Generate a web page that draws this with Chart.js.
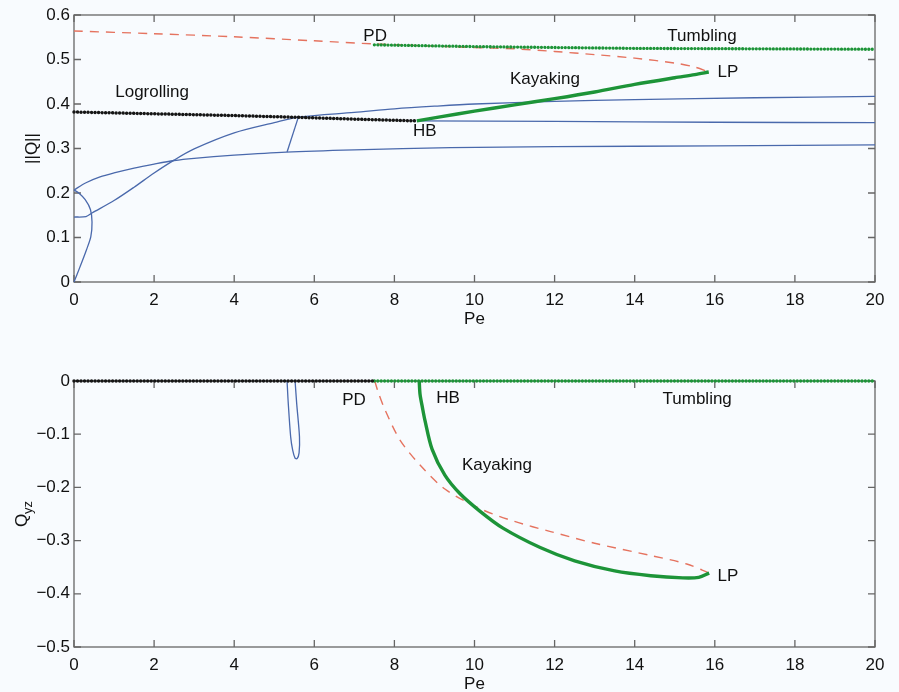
<!DOCTYPE html>
<html>
<head>
<meta charset="utf-8">
<script src="https://cdn.jsdelivr.net/npm/chart.js@4.4.1/dist/chart.umd.min.js"></script>
<style>
  html, body { margin: 0; padding: 0; background: #f8fbfe; }
  #wrap { position: relative; width: 899px; height: 692px; overflow: hidden; }
  canvas { position: absolute; left: 0; }
  #topChart { top: 0; }
  #bottomChart { top: 340px; }
</style>
</head>
<body>
<div id="wrap">
  <canvas id="topChart" width="899" height="340"></canvas>
  <canvas id="bottomChart" width="899" height="352"></canvas>
</div>
<script>
// ---- top panel: ||Q|| vs Pe ----
const logrollPe = [0, 2, 4, 5.6, 7, 8.56];
const logrollQ  = [0.382, 0.378, 0.374, 0.370, 0.366, 0.362];
const tumblePe  = [7.5, 10, 14, 20];
const tumbleQ   = [0.533, 0.529, 0.525, 0.523];
const kayakPe   = [8.56, 9.14, 10, 11, 12, 13, 14, 15, 15.5, 15.85];
const kayakQ    = [0.362, 0.371, 0.384, 0.398, 0.412, 0.427, 0.444, 0.459, 0.466, 0.472];
const redPe     = [0, 2, 4, 6, 7.5, 9, 10, 11, 12, 13, 14, 15, 15.5, 15.85];
const redQ      = [0.564, 0.558, 0.551, 0.542, 0.535, 0.530, 0.527, 0.524, 0.518, 0.511, 0.503, 0.492, 0.483, 0.472];
const blueUpPe  = [0, 0.3, 0.45, 1, 1.5, 2, 2.5, 3, 4, 5, 5.64, 7, 8, 9, 10, 12, 14, 17, 20];
const blueUpQ   = [0.146, 0.147, 0.155, 0.183, 0.213, 0.245, 0.274, 0.299, 0.335, 0.358, 0.371, 0.381, 0.389, 0.395, 0.400, 0.406, 0.410, 0.414, 0.417];
const blueLoPe  = [0, 0.3, 0.65, 1, 1.5, 2, 2.5, 3, 4, 5.3, 7, 9.4, 12, 16, 20];
const blueLoQ   = [0.207, 0.223, 0.236, 0.245, 0.256, 0.265, 0.273, 0.278, 0.285, 0.292, 0.297, 0.302, 0.304, 0.306, 0.308];
const blueMidPe = [8.56, 12, 16, 20];
const blueMidQ  = [0.362, 0.361, 0.359, 0.358];
const linkPe    = [5.32, 5.6];
const linkQ     = [0.292, 0.370];
const arcPe     = [0, 0.15, 0.31, 0.42, 0.45, 0.41, 0.28, 0.12, 0];
const arcQ      = [0, 0.034, 0.072, 0.102, 0.135, 0.163, 0.185, 0.200, 0.207];

// ---- bottom panel: Q_yz vs Pe ----
const logrollBotPe = [0, 7.5];
const logrollBotQ  = [0, 0];
const tumbleBotPe  = [7.5, 20];
const tumbleBotQ   = [0, 0];
const loopPe       = [5.32, 5.35, 5.41, 5.46, 5.52, 5.57, 5.62, 5.63, 5.56, 5.52];
const loopQ        = [0, -0.042, -0.105, -0.13, -0.145, -0.146, -0.135, -0.105, -0.042, 0];
const redBotPe     = [7.51, 7.6, 7.77, 8.14, 8.64, 9.26, 10.14, 11, 11.9, 13, 14.4, 15.3, 15.86];
const redBotQ      = [0, -0.022, -0.055, -0.111, -0.158, -0.203, -0.240, -0.264, -0.283, -0.305, -0.328, -0.344, -0.361];
const kayakBotPe   = [8.62, 8.64, 8.7, 8.76, 8.94, 9.26, 9.64, 10.14, 10.7, 11.64, 12.5, 13.5, 14.4, 15.2, 15.6, 15.86];
const kayakBotQ    = [0, -0.025, -0.05, -0.073, -0.128, -0.177, -0.212, -0.245, -0.276, -0.313, -0.338, -0.357, -0.366, -0.370, -0.369, -0.361];

// labels, anchored in data coordinates
const topLabels = [
  {text: 'PD', pe: 7.52, v: 0.553}, {text: 'Tumbling', pe: 15.68, v: 0.551},
  {text: 'Logrolling', pe: 1.95, v: 0.427}, {text: 'Kayaking', pe: 11.76, v: 0.456},
  {text: 'LP', pe: 16.33, v: 0.472}, {text: 'HB', pe: 8.76, v: 0.339}
];
const bottomLabels = [
  {text: 'PD', pe: 6.99, v: -0.036}, {text: 'HB', pe: 9.34, v: -0.032},
  {text: 'Tumbling', pe: 15.56, v: -0.034}, {text: 'Kayaking', pe: 10.56, v: -0.158},
  {text: 'LP', pe: 16.33, v: -0.368}
];

const FONT = '"Liberation Sans", Arial, Helvetica, sans-serif';
const BLUE = '#4a69ac', RED = '#e5735f', GREEN = '#1d9438', BLACK = '#151515';

function pts(xs, ys) { return xs.map((x, i) => ({x: x, y: ys[i]})); }

function line(xs, ys, style) {
  return Object.assign({
    data: pts(xs, ys), showLine: true, pointRadius: 0, pointHoverRadius: 0,
    fill: false, clip: false, tension: 0.3, borderWidth: 1.3
  }, style);
}

const blueStyle  = {borderColor: BLUE, borderWidth: 1.3};
const redStyle   = {borderColor: RED, borderWidth: 1.4, borderDash: [9, 7]};
const dotBlack   = {borderColor: BLACK, borderWidth: 3.5, borderDash: [0.01, 3.5], borderCapStyle: 'round', tension: 0};
const dotGreen   = {borderColor: GREEN, borderWidth: 3.3, borderDash: [0.01, 3.4], borderCapStyle: 'round', tension: 0};
const solidGreen = {borderColor: GREEN, borderWidth: 3.4};

function fmtY(v) {
  if (Math.abs(v) < 1e-9) return '0';
  return (v < 0 ? '\u2212' : '') + Math.abs(v).toFixed(1);
}

function scalesFor(ymin, ymax, xh) {
  const tickFont = {family: FONT, size: 17};
  return {
    x: {
      type: 'linear', min: 0, max: 20,
      afterFit: s => { s.height = xh; },
      grid: {display: false}, border: {display: false},
      ticks: {stepSize: 2, padding: 0, color: '#111', font: tickFont, maxRotation: 0, autoSkip: false}
    },
    y: {
      type: 'linear', min: ymin, max: ymax,
      afterFit: s => { s.width = 74; },
      grid: {display: false}, border: {display: false},
      ticks: {stepSize: 0.1, padding: -4, color: '#111', font: tickFont, callback: fmtY}
    }
  };
}

// MATLAB-like box with inward ticks on all four sides
const frame = {
  id: 'frame',
  beforeDatasetsDraw(chart) {
    const {ctx, chartArea: a, scales: {x, y}} = chart;
    ctx.save();
    ctx.strokeStyle = '#666';
    ctx.lineWidth = 1.3;
    ctx.strokeRect(a.left, a.top, a.width, a.height);
    ctx.beginPath();
    x.ticks.forEach(t => {
      const px = x.getPixelForValue(t.value);
      ctx.moveTo(px, a.bottom); ctx.lineTo(px, a.bottom - 7);
      ctx.moveTo(px, a.top); ctx.lineTo(px, a.top + 7);
    });
    y.ticks.forEach(t => {
      const py = y.getPixelForValue(t.value);
      ctx.moveTo(a.left, py); ctx.lineTo(a.left + 7, py);
      ctx.moveTo(a.right, py); ctx.lineTo(a.right - 7, py);
    });
    ctx.stroke();
    ctx.restore();
  }
};

function textLayer(labels, drawYTitle) {
  return {
    id: 'textLayer',
    afterDatasetsDraw(chart) {
      const {ctx, chartArea: a, scales: {x, y}} = chart;
      ctx.save();
      ctx.fillStyle = '#111';
      ctx.font = '17px ' + FONT;
      ctx.textAlign = 'center';
      ctx.textBaseline = 'middle';
      labels.forEach(l => ctx.fillText(l.text, x.getPixelForValue(l.pe), y.getPixelForValue(l.v)));
      ctx.fillText('Pe', (a.left + a.right) / 2, a.bottom + 37);
      drawYTitle(ctx, a);
      ctx.restore();
    }
  };
}

function titleNorm(ctx, a) {
  ctx.save();
  ctx.translate(32, (a.top + a.bottom) / 2);
  ctx.rotate(-Math.PI / 2);
  ctx.fillText('||Q||', 0, 0);
  ctx.restore();
}

function titleQyz(ctx, a) {
  ctx.save();
  ctx.translate(22, (a.top + a.bottom) / 2);
  ctx.rotate(-Math.PI / 2);
  ctx.textAlign = 'left';
  ctx.font = '17px ' + FONT;
  const wQ = ctx.measureText('Q').width;
  ctx.font = '13px ' + FONT;
  const wS = ctx.measureText('yz').width;
  const x0 = -(wQ + wS) / 2;
  ctx.font = '17px ' + FONT;
  ctx.fillText('Q', x0, 0);
  ctx.font = '13px ' + FONT;
  ctx.fillText('yz', x0 + wQ, 6);
  ctx.restore();
}

const baseOptions = (scales, pad) => ({
  responsive: false,
  animation: false,
  layout: {padding: pad},
  plugins: {legend: {display: false}, tooltip: {enabled: false}},
  events: [],
  scales: scales
});

new Chart(document.getElementById('topChart'), {
  type: 'scatter',
  data: {
    datasets: [
      line(logrollPe, logrollQ, dotBlack),
      line(tumblePe, tumbleQ, dotGreen),
      line(kayakPe, kayakQ, solidGreen),
      line(redPe, redQ, redStyle),
      line(blueUpPe, blueUpQ, blueStyle),
      line(blueLoPe, blueLoQ, blueStyle),
      line(blueMidPe, blueMidQ, blueStyle),
      line(linkPe, linkQ, Object.assign({tension: 0}, blueStyle)),
      line(arcPe, arcQ, blueStyle)
    ]
  },
  options: baseOptions(scalesFor(0, 0.6, 58), {top: 15, right: 24, left: 0, bottom: 0}),
  plugins: [frame, textLayer(topLabels, titleNorm)]
});

new Chart(document.getElementById('bottomChart'), {
  type: 'scatter',
  data: {
    datasets: [
      line(logrollBotPe, logrollBotQ, dotBlack),
      line(tumbleBotPe, tumbleBotQ, dotGreen),
      line(kayakBotPe, kayakBotQ, solidGreen),
      line(redBotPe, redBotQ, redStyle),
      line(loopPe, loopQ, blueStyle)
    ]
  },
  options: baseOptions(scalesFor(-0.5, 0, 45), {top: 41, right: 24, left: 0, bottom: 0}),
  plugins: [frame, textLayer(bottomLabels, titleQyz)]
});
</script>
</body>
</html>
